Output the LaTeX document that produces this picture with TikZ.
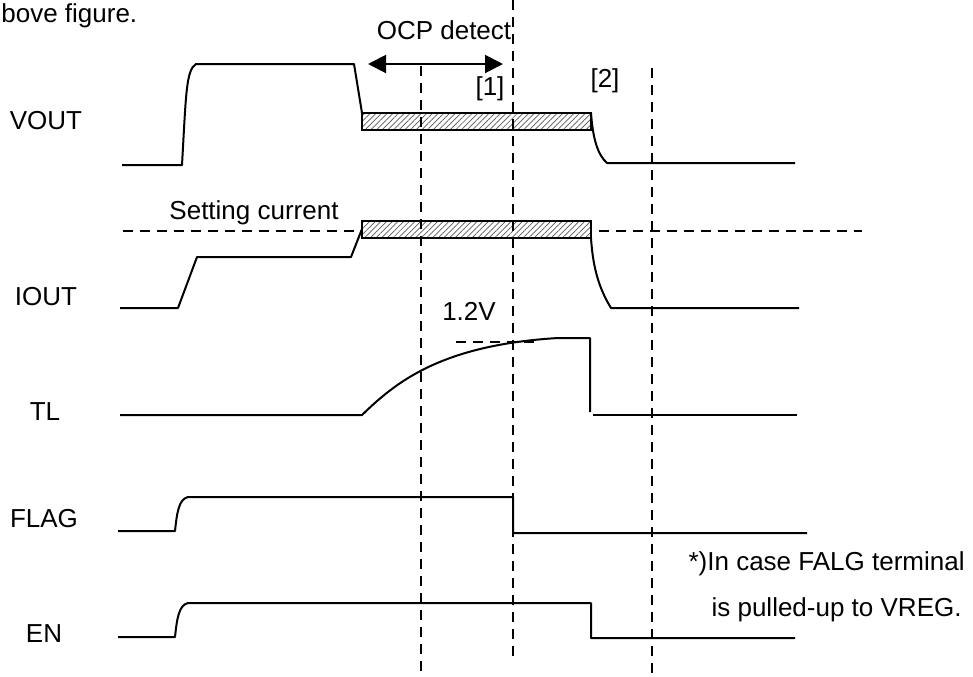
\documentclass[tikz,border=0pt]{standalone}
\usepackage{fontspec}
\setmainfont{Liberation Sans}
\usepackage{tikz}
\usetikzlibrary{arrows.meta,patterns.meta}

\begin{document}
\begin{tikzpicture}[x=0.5pt,y=-0.5pt,
	wave/.style={draw,line width=1pt,black,line join=round},
	guide/.style={draw,line width=1pt,dash pattern=on 5pt off 3.5pt},
	hatchbox/.style={draw,line width=1pt,preaction={fill=white},pattern={Lines[angle=45,distance=2pt,line width=0.35pt]},pattern color=black!65},
	sig/.style={font=\fontsize{13}{15}\selectfont},
	every node/.style={inner sep=0pt}]
	\useasboundingbox (0,0) rectangle (973,676);
	% caption remains and signal names
	\node[sig,anchor=west] (cap) at (1,16) {bove figure.};
	\node[sig] (vout) at (46,121) {VOUT};
	\node[sig] (iout) at (46,297) {IOUT};
	\node[sig] (tl) at (45,412) {TL};
	\node[sig] (flag) at (44,519) {FLAG};
	\node[sig] (en) at (44,634) {EN};
	% setting current level
	\draw[guide] (123,231) -- (862,231);
	\draw[guide] (456,342) -- (535,342);
	% labels on the guides
	\node[sig] (ocp) at (444,30) {OCP detect};
	\node[sig] (mark1) at (490,89) {[1]};
	\node[sig] (mark2) at (605,81) {[2]};
	\node[sig] (setcur) at (254,213) {Setting current};
	\node[sig] (lvl) at (469,311) {1.2V};
	\draw[line width=1pt,{Triangle[length=9pt,width=9pt]}-{Triangle[length=9pt,width=9pt]}] (368,64) -- (503,64);
	% VOUT
	\draw[wave] (122,165) -- (182,165) .. controls (186,95) and (186,70) .. (196,64)
		-- (354,64) -- (362,113);
	\draw[hatchbox] (362,113) rectangle (591,130);
	\draw[wave] (591,113) .. controls (593,140) and (598,155) .. (607,163) -- (795,163);
	% IOUT
	\draw[wave] (120,308) -- (178,308) -- (197,257) -- (351,257) -- (362,229);
	\draw[hatchbox] (362,221) rectangle (591,238);
	\draw[wave] (591,238) .. controls (593,270) and (600,290) .. (611,308) -- (799,308);
	% TL
	\draw[wave] (120,415) -- (362,415) .. controls (395,383) and (440,345) .. (558,338)
		-- (590,338) -- (590,412);
	\draw[wave] (593,415) -- (797,415);
	% FLAG
	\draw[wave] (118,531) -- (175,531) .. controls (177,512) and (179,499) .. (188,497)
		-- (513,497) -- (513,533) -- (807,533);
	% EN
	\draw[wave] (118,637) -- (175,637) .. controls (177,618) and (179,605) .. (188,603)
		-- (591,603) -- (591,638) -- (795,638);
	% timing guides
	\draw[guide] (421,66) -- (421,676);
	\draw[guide] (513,0) -- (513,662);
	\draw[guide] (652,68) -- (652,676);
	% note
	\node[sig,anchor=east] (note1) at (965,564) {*)In case FALG terminal};
	\node[sig,anchor=east] (note2) at (962,610) {is pulled-up to VREG.};
\end{tikzpicture}
\end{document}
